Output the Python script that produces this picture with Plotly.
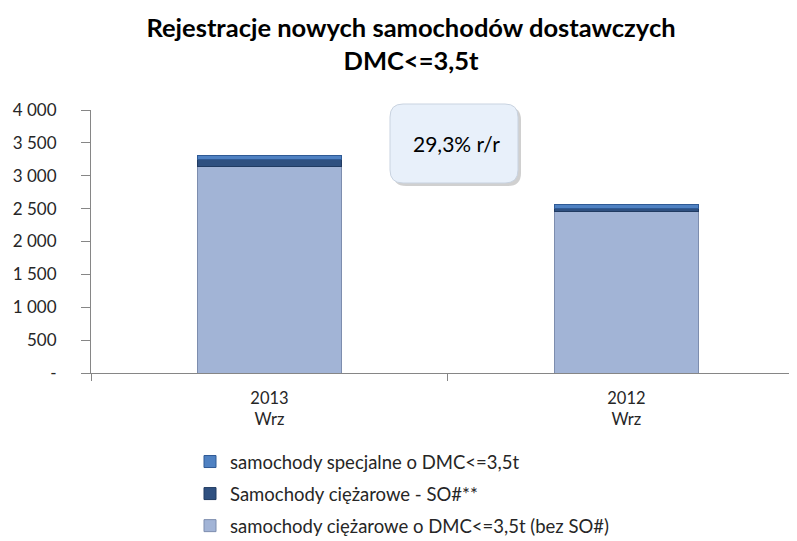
import plotly.graph_objects as go

years = ["2013", "2012"]
months = ["Wrz", "Wrz"]
bez_so = [3135, 2455]
ciezarowe_so = [110, 45]
specjalne = [70, 64]
change_label = "29,3% r/r"
yticks = [0, 500, 1000, 1500, 2000, 2500, 3000, 3500, 4000]
yticktext = ["-", "500", "1 000", "1 500", "2 000", "2 500", "3 000", "3 500", "4 000"]

cats = [f"{y}<br>{m}" for y, m in zip(years, months)]
FONT = "Lato"

fig = go.Figure()
fig.add_trace(go.Bar(x=cats, y=bez_so, name="samochody ciężarowe o DMC<=3,5t (bez SO#)",
                     marker=dict(color="#A2B4D6", line=dict(color="#7D8DAE", width=1)),
                     legendrank=3, legendgroup="c", width=0.405))
fig.add_trace(go.Bar(x=cats, y=ciezarowe_so, name="Samochody ciężarowe - SO#**",
                     marker=dict(color="#2F5080", line=dict(color="#213B62", width=1)),
                     legendrank=2, legendgroup="b", width=0.405))
fig.add_trace(go.Bar(x=cats, y=specjalne, name="samochody specjalne o DMC<=3,5t",
                     marker=dict(color="#4F81C2", line=dict(color="#2F5A95", width=1)),
                     legendrank=1, legendgroup="a", width=0.405))

OFF = 8  # page body margin
W, H = 797 - OFF, 541 - OFF
L, R, T, B = 91 - OFF, 797 - OFF, 110 - OFF, 373 - OFF
pw, ph = R - L, B - T

def px(x):
    return (x - OFF - L) / pw

def py(y):
    return (B - (y - OFF)) / ph

def rrect(x0, y0, x1, y1, r):
    rx, ry = r / pw, r / ph
    X0, X1 = px(x0), px(x1)
    Yt, Yb = py(y0), py(y1)
    return (f"M {X0+rx} {Yt} L {X1-rx} {Yt} Q {X1} {Yt} {X1} {Yt-ry} "
            f"L {X1} {Yb+ry} Q {X1} {Yb} {X1-rx} {Yb} L {X0+rx} {Yb} "
            f"Q {X0} {Yb} {X0} {Yb+ry} L {X0} {Yt-ry} Q {X0} {Yt} {X0+rx} {Yt} Z")

shapes = [
    dict(type="path", xref="paper", yref="paper", path=rrect(393, 107, 521, 186, 13),
         fillcolor="rgba(120,120,120,0.35)", line=dict(width=0), layer="above"),
    dict(type="path", xref="paper", yref="paper", path=rrect(390, 104, 518, 183, 13),
         fillcolor="#E8F0FA", line=dict(color="#C9D3E0", width=1), layer="above"),
]

fig.update_layout(
    width=W, height=H,
    margin=dict(l=L, r=W - R, t=T, b=H - B, pad=0, autoexpand=False),
    barmode="stack",
    plot_bgcolor="white", paper_bgcolor="white",
    font=dict(family=FONT, size=14, color="#262626"),
    title=dict(text="<b>Rejestracje nowych samochodów dostawczych<br>DMC<=3,5t</b>",
               x=(411 - OFF) / W, xanchor="center", yref="container",
               y=1 - (36.5 - OFF) / H, yanchor="middle",
               font=dict(family=FONT, size=25.5, color="#000000")),
    showlegend=True,
    legend=dict(traceorder="grouped", tracegroupgap=5,
                x=px(190), xanchor="left", y=py(443), yanchor="top",
                font=dict(family=FONT, size=18.5, color="#262626"),
                itemclick=False, itemdoubleclick=False),
    shapes=shapes,
    annotations=[dict(text=change_label, xref="paper", yref="paper",
                      x=px(456), y=py(143), xanchor="center", yanchor="middle",
                      showarrow=False,
                      font=dict(family=FONT, size=21, color="#000000"))],
    bargap=0.6,
)
fig.update_xaxes(type="category", range=[-0.5, 1.478], showline=True, linecolor="#868686",
                 linewidth=1, ticks="outside", tickson="boundaries", ticklen=7,
                 tickcolor="#868686", showgrid=False, tickfont=dict(size=16.5),
                 ticklabelstandoff=10, automargin=False)
fig.update_yaxes(range=[0, 4000], tickvals=yticks, ticktext=yticktext, showline=True,
                 linecolor="#868686", linewidth=1, ticks="outside", ticklen=9,
                 tickcolor="#868686", showgrid=False, zeroline=False,
                 ticklabelstandoff=21, tickfont=dict(size=17), automargin=False)

fig.write_html("out.html")
